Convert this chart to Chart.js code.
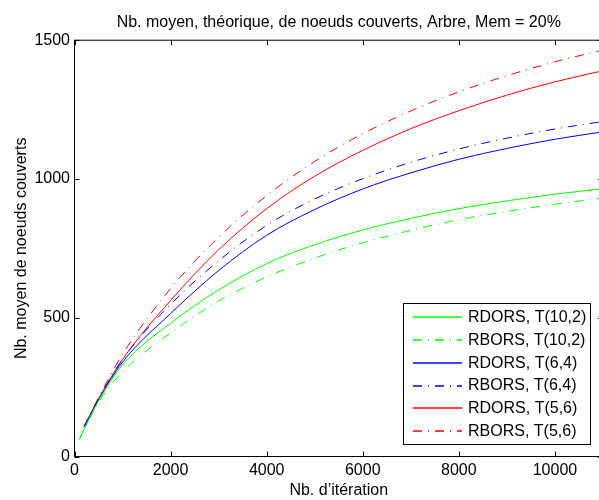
<!DOCTYPE html>
<html><head><meta charset="utf-8">
<script src="https://cdn.jsdelivr.net/npm/chart.js@4.4.0/dist/chart.umd.min.js"></script>
<style>html,body{margin:0;padding:0;overflow:hidden;background:#fff}canvas{display:block}</style>
</head><body>
<canvas id="c" width="603" height="500"></canvas>
<script>
const iterations = [100, 200, 500, 1000, 2000, 3000, 4000, 5000, 6000, 7000, 8000, 9000, 10000, 11000];
const rdorsT10_2 = [62, 98, 200, 330, 480, 600, 695, 763, 816, 858, 893, 921, 945, 965];
const rborsT10_2 = [62, 97, 195, 305, 445, 560, 647, 715, 770, 815, 853, 883, 909, 931];
const rdorsT6_4  = [null, 108, 205, 340, 515, 670, 797, 890, 964, 1022, 1071, 1110, 1143, 1170];
const rborsT6_4  = [null, 108, 207, 350, 548, 705, 833, 928, 1001, 1060, 1108, 1147, 1180, 1207];
const rdorsT5_6  = [null, 108, 208, 350, 562, 745, 893, 1010, 1103, 1181, 1246, 1302, 1350, 1390];
const rborsT5_6  = [null, 108, 212, 368, 605, 790, 940, 1063, 1163, 1245, 1314, 1372, 1422, 1465];
const xTickValues = [0, 2000, 4000, 6000, 8000, 10000];
const yTickValues = [0, 500, 1000, 1500];
const seriesLabels = ['RDORS, T(10,2)', 'RBORS, T(10,2)', 'RDORS, T(6,4)', 'RBORS, T(6,4)', 'RDORS, T(5,6)', 'RBORS, T(5,6)'];
const chartTitle = 'Nb. moyen, théorique, de noeuds couverts, Arbre, Mem = 20%';
const xTitle = 'Nb. d\u2019itération';
const yTitle = 'Nb. moyen de noeuds couverts';

const FONT = 'Liberation Sans, Arial, Helvetica, sans-serif';
const DASHDOT = [9, 6, 1, 6];
const seriesValues = [rdorsT10_2, rborsT10_2, rdorsT6_4, rborsT6_4, rdorsT5_6, rborsT5_6];
const colors = ['#00ff00', '#00ff00', '#0000ff', '#0000ff', '#ff0000', '#ff0000'];
const dashes = [[], DASHDOT, [], DASHDOT, [], DASHDOT];

const datasets = seriesValues.map((vals, i) => ({
  label: seriesLabels[i],
  data: iterations.map((x, j) => ({x: x, y: vals[j]})).filter(p => p.y !== null),
  borderColor: colors[i],
  borderWidth: 1,
  borderDash: dashes[i],
  pointRadius: 0,
  fill: false,
  cubicInterpolationMode: 'monotone'
}));

const decor = {
  id: 'decor',
  afterDatasetsDraw(chart) {
    const {ctx, chartArea: a, scales: {x, y}} = chart;
    ctx.save();
    ctx.strokeStyle = '#000';
    ctx.lineWidth = 1;
    ctx.setLineDash([]);
    ctx.strokeRect(a.left, a.top, a.right - a.left, a.bottom - a.top);
    ctx.beginPath();
    xTickValues.forEach(v => {
      const px = Math.round(x.getPixelForValue(v)) + 0.5;
      ctx.moveTo(px, a.bottom); ctx.lineTo(px, a.bottom - 5);
      ctx.moveTo(px, a.top); ctx.lineTo(px, a.top + 5);
    });
    yTickValues.forEach(v => {
      const py = Math.round(y.getPixelForValue(v)) + 0.5;
      ctx.moveTo(a.left, py); ctx.lineTo(a.left + 5, py);
      ctx.moveTo(a.right, py); ctx.lineTo(a.right - 5, py);
    });
    ctx.stroke();
    // legend
    const bx = 403.5, by = 303.5, bw = 187, bh = 141;
    ctx.fillStyle = '#fff';
    ctx.fillRect(bx, by, bw, bh);
    ctx.strokeStyle = '#000';
    ctx.strokeRect(bx, by, bw, bh);
    ctx.font = '16px ' + FONT;
    ctx.textBaseline = 'middle';
    ctx.textAlign = 'left';
    chart.data.datasets.forEach((ds, i) => {
      const ry = 317 + i * 22.85;
      ctx.beginPath();
      ctx.strokeStyle = ds.borderColor;
      ctx.lineWidth = 1.3;
      ctx.setLineDash(ds.borderDash || []);
      ctx.moveTo(413, Math.round(ry)); ctx.lineTo(462, Math.round(ry));
      ctx.stroke();
      ctx.setLineDash([]);
      ctx.fillStyle = '#000';
      ctx.fillText(ds.label, 468, ry + 0.5);
    });
    ctx.restore();
  }
};

new Chart(document.getElementById('c'), {
  type: 'line',
  data: {datasets: datasets},
  plugins: [decor],
  options: {
    responsive: false,
    animation: false,
    devicePixelRatio: 1,
    layout: {padding: 0},
    plugins: {
      legend: {display: false},
      tooltip: {enabled: false},
      title: {
        display: true, text: chartTitle, fullSize: false, color: '#000',
        font: {family: FONT, size: 16, weight: 'normal', lineHeight: 1.2},
        padding: {top: 12.9, bottom: 8.1}
      }
    },
    scales: {
      x: {
        type: 'linear', min: 0, max: 11000,
        grid: {display: false, drawTicks: false},
        border: {display: false},
        afterBuildTicks: s => { s.ticks = xTickValues.map(v => ({value: v})); },
        afterFit: s => { s.height = 43.5; },
        ticks: {color: '#000', padding: 4, maxRotation: 0, font: {family: FONT, size: 16}, callback: v => String(v)},
        title: {display: true, text: xTitle, color: '#000', font: {family: FONT, size: 16}, padding: {top: 0, bottom: 0}}
      },
      y: {
        type: 'linear', min: 0, max: 1500,
        grid: {display: false, drawTicks: false},
        border: {display: false},
        afterBuildTicks: s => { s.ticks = yTickValues.map(v => ({value: v})); },
        afterFit: s => { s.width = 74.5; },
        ticks: {color: '#000', padding: 4.5, font: {family: FONT, size: 16}, callback: v => String(v)},
        title: {display: true, text: yTitle, color: '#000', font: {family: FONT, size: 16}, padding: {top: 12, bottom: 0}}
      }
    }
  }
});
</script>
</body></html>
